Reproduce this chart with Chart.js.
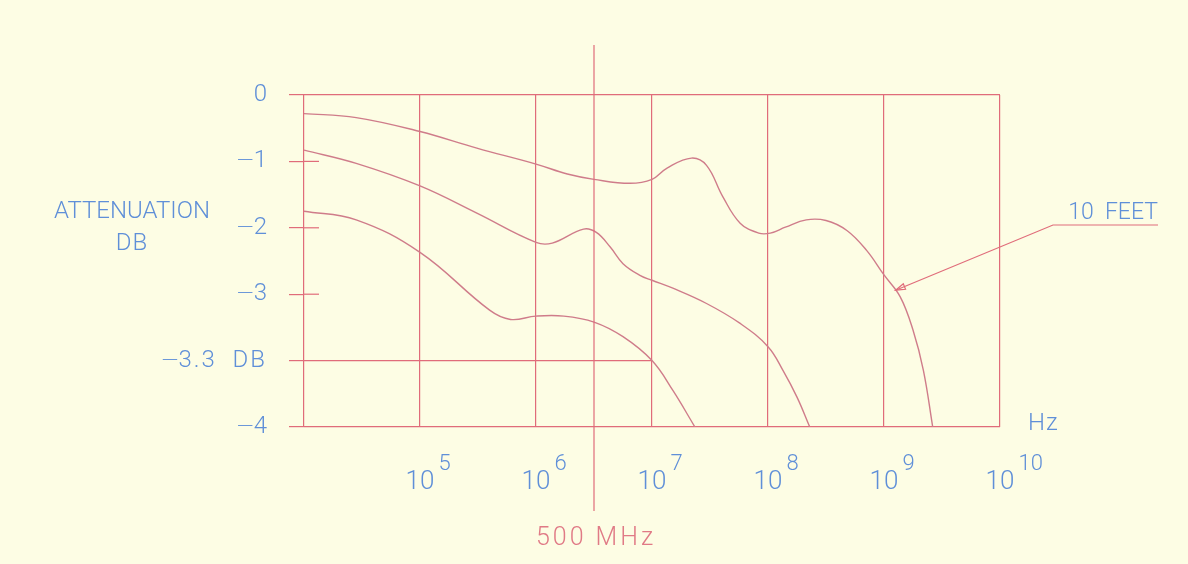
<!DOCTYPE html>
<html lang="en">
<head>
  <meta charset="UTF-8">
  <title>Attenuation vs frequency</title>
  <script src="https://cdn.jsdelivr.net/npm/chart.js"></script>
  <style>
    body {
      margin: 0;
      background-color: #fdfde4;
    }
    #chartWrapper {
      width: 1188px;
      height: 564px;
    }
  </style>
</head>
<body>
  <div id="chartWrapper">
    <canvas id="attChart" width="1188" height="564"></canvas>
  </div>

  <script>
    // x = log10(Hz), y = position on the (non-linear) attenuation scale
    const curve1X = [4.0, 4.45, 5.0, 5.49, 6.0, 6.27, 6.5, 6.81, 7.0, 7.13, 7.34, 7.47, 7.61, 7.76, 7.92, 8.02, 8.15, 8.33, 8.5, 8.68, 8.85, 9.0, 9.14, 9.25, 9.34, 9.42];
    const curve1Y = [-0.28, -0.34, -0.55, -0.80, -1.04, -1.19, -1.27, -1.33, -1.27, -1.10, -0.95, -1.06, -1.53, -1.93, -2.08, -2.08, -1.99, -1.88, -1.89, -2.04, -2.34, -2.71, -3.04, -3.54, -4.15, -5.0];

    const curve2X = [4.0, 4.45, 5.0, 5.49, 6.0, 6.14, 6.41, 6.52, 6.64, 6.75, 6.9, 7.0, 7.18, 7.47, 7.76, 8.0, 8.13, 8.25, 8.36];
    const curve2Y = [-0.83, -1.03, -1.37, -1.78, -2.22, -2.23, -2.02, -2.07, -2.29, -2.54, -2.72, -2.79, -2.91, -3.14, -3.44, -3.79, -4.15, -4.55, -5.0];

    const curve3X = [4.0, 4.45, 5.0, 5.6, 5.78, 6.0, 6.24, 6.5, 6.75, 7.0, 7.18, 7.37];
    const curve3Y = [-1.75, -1.88, -2.37, -3.24, -3.38, -3.33, -3.33, -3.42, -3.64, -4.0, -4.45, -5.0];

    const refLineX = [4, 7];
    const refLineY = [-4, -4];

    const yTickLabels = ["0", "\u22121", "\u22122", "\u22123", "\u22123.3  DB", "\u22124"];
    const decades = [5, 6, 7, 8, 9, 10];
    const markerX = 6.5;
    const markerLabel = "500 MHz";
    const noteLabel = "10  FEET";
    const notePoint = { x: 9.1, y: -2.94 };

    const RED = "#e06c7a";
    const CURVE = "#cf7c8a";
    const BLUE = "#5f8fd8";
    const FONT = '300 SIZEpx Roboto, "DejaVu Sans", sans-serif';
    const MINUS = "\u2212";

    const toPoints = (xs, ys) => xs.map((v, i) => ({ x: v, y: ys[i] }));

    function text(ctx, str, px, py, size, color, align, spacing) {
      ctx.font = FONT.replace("SIZE", size);
      ctx.letterSpacing = (spacing || 0) + "px";
      ctx.fillStyle = color;
      ctx.textAlign = align;
      ctx.textBaseline = "middle";
      ctx.fillText(str, px, py);
      const w = ctx.measureText(str).width;
      ctx.letterSpacing = "0px";
      return w;
    }

    // y tick label: Roboto's minus is very short, draw it with DejaVu
    function yLabel(ctx, s, right, py) {
      const neg = s.startsWith(MINUS);
      const rest = neg ? s.slice(1) : s;
      const w = text(ctx, rest, right, py, 24, BLUE, "right", rest.length > 2 ? 2 : 0);
      if (neg) {
        ctx.font = '200 23px "DejaVu Sans"';
        ctx.textAlign = "right";
        ctx.fillText(MINUS, right - w + 1, py);
      }
    }

    const decor = {
      id: "decor",
      beforeDraw(chart) {
        const ctx = chart.ctx;
        ctx.save();
        ctx.fillStyle = "#fdfde4";
        ctx.fillRect(0, 0, chart.width, chart.height);
        ctx.restore();
      },
      afterDraw(chart) {
        const { ctx, chartArea: a, scales: { x, y } } = chart;
        ctx.save();
        ctx.strokeStyle = RED;
        ctx.lineWidth = 1.2;

        // short inner tick stubs
        [-1, -2, -3].forEach(v => {
          const py = y.getPixelForValue(v);
          ctx.beginPath();
          ctx.moveTo(a.left, py);
          ctx.lineTo(a.left + 15, py);
          ctx.stroke();
        });

        // 500 MHz marker line
        const mx = x.getPixelForValue(markerX);
        ctx.beginPath();
        ctx.moveTo(mx, a.top - 50);
        ctx.lineTo(mx, a.bottom + 84);
        ctx.stroke();

        // leader to the 10 FEET curve
        const tx = x.getPixelForValue(notePoint.x);
        const ty = y.getPixelForValue(notePoint.y);
        const kx = 1053, ky = 225;
        ctx.beginPath();
        ctx.moveTo(1158, ky);
        ctx.lineTo(kx, ky);
        ctx.lineTo(tx, ty);
        ctx.stroke();
        const ang = Math.atan2(ky - ty, kx - tx);
        ctx.beginPath();
        ctx.moveTo(tx, ty);
        ctx.lineTo(tx + 10 * Math.cos(ang - 0.3), ty + 10 * Math.sin(ang - 0.3));
        ctx.lineTo(tx + 10 * Math.cos(ang + 0.3), ty + 10 * Math.sin(ang + 0.3));
        ctx.closePath();
        ctx.stroke();

        // y labels
        yTickLabels.forEach((s, i) => yLabel(ctx, s, a.left - 37, y.getPixelForValue(-i)));
        text(ctx, "ATTENUATION", 132, 212, 24, BLUE, "center");
        text(ctx, "DB", 132, 244, 24, BLUE, "center", 1);

        // x labels 10^n
        decades.forEach(e => {
          const px = x.getPixelForValue(e);
          const w = text(ctx, "10", px, 482, 26, BLUE, "center");
          text(ctx, String(e), px + w / 2 + 4, 464, 22, BLUE, "left");
        });
        text(ctx, "Hz", 1028, 424, 24, BLUE, "left", 1);

        text(ctx, markerLabel, mx + 2, 539, 25, "#e07a86", "center", 3);
        text(ctx, noteLabel, 1158, 213, 23, BLUE, "right");
        ctx.restore();
      }
    };

    const lineStyle = {
      borderColor: CURVE,
      borderWidth: 1.4,
      pointRadius: 0,
      fill: false,
      tension: 0.4
    };

    new Chart(document.getElementById("attChart").getContext("2d"), {
      type: "line",
      data: {
        datasets: [
          { label: "curve 1", data: toPoints(curve1X, curve1Y), ...lineStyle },
          { label: "curve 2", data: toPoints(curve2X, curve2Y), ...lineStyle },
          { label: "curve 3", data: toPoints(curve3X, curve3Y), ...lineStyle },
          { label: "-3.3 DB", data: toPoints(refLineX, refLineY), borderColor: RED, borderWidth: 1.2, pointRadius: 0, tension: 0 }
        ]
      },
      options: {
        responsive: false,
        animation: false,
        layout: { padding: { left: 304, right: 188, top: 95, bottom: 137 } },
        plugins: {
          legend: { display: false },
          tooltip: { enabled: false }
        },
        scales: {
          x: {
            type: "linear",
            min: 4,
            max: 10,
            afterFit: s => { s.height = 0; },
            ticks: { display: false, stepSize: 1 },
            border: { display: false },
            grid: { color: RED, lineWidth: 1.2, drawTicks: false }
          },
          y: {
            type: "linear",
            min: -5,
            max: 0,
            afterFit: s => { s.width = 0; },
            ticks: { display: false, stepSize: 1 },
            border: { display: false },
            grid: {
              color: c => (c.tick && (c.tick.value === 0 || c.tick.value === -5)) ? RED : "rgba(0,0,0,0)",
              tickColor: RED,
              lineWidth: 1.2,
              drawTicks: true,
              tickLength: 15
            }
          }
        }
      },
      plugins: [decor]
    });
  </script>
</body>
</html>
